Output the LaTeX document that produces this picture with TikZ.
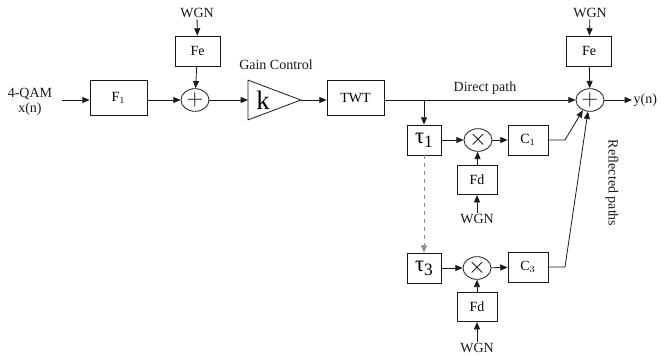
\documentclass[tikz,border=0pt]{standalone}
\usepackage{fontspec}
\setmainfont{Liberation Serif}
\usepackage{tikz}
\usetikzlibrary{arrows.meta,positioning,shapes.geometric}
\definecolor{ink}{HTML}{1A1A1A}
\definecolor{dashgray}{HTML}{8C8C8C}

\newcommand{\delayt}[1]{{\fontsize{17}{17}\selectfont τ}{\fontsize{13}{13}\selectfont\raisebox{-3pt}{#1}}}

\tikzset{
  box/.style={draw=ink, inner sep=0pt, minimum height=22.5pt},
  adder/.style={draw=ink, ellipse, inner sep=0pt, minimum width=21pt, minimum height=17pt,
    font=\fontsize{16}{16}\selectfont},
  amp/.style={inner ysep=0pt, inner xsep=6pt, text width=27pt, align=left,
    minimum height=29.25pt, anchor=west},
  lbl/.style={inner sep=1pt, text=ink}
}

\begin{document}
\begin{tikzpicture}[x=0.75pt, y=-0.75pt, font=\fontsize{10.5}{12}\selectfont,
    >={Triangle[length=5.5pt,width=4.5pt]}, line width=0.6pt, draw=ink]
  \useasboundingbox (0,0) rectangle (668,355);

  % transmitter chain
  \node[lbl, align=center] (in) at (30,102) {4-QAM\\[-1pt]x(n)};
  \coordinate (src) at (62,100);
  \node[box, minimum width=42.75pt, minimum height=26.25pt] (f1) at (118.5,98) {F$_1$};
  \node[adder] (sum1) at (195,100) {$+$};
  \node[box, minimum width=33.75pt] (fe1) at (197.5,51) {Fe};
  \node[lbl] (wgn1) at (197,13) {WGN};
  \node[amp] (amp) at (248,100) {\fontsize{20}{20}\selectfont k};
  \draw (amp.north west) -- (amp.east) -- (amp.south west) -- cycle;
  \node[lbl] (gain) at (276,65) {Gain Control};
  \node[box, minimum width=42.75pt, minimum height=26.25pt] (twt) at (355.5,98) {TWT};
  \coordinate (tap) at (424,100);

  % receiver sum
  \node[adder] (sum2) at (590,100) {$+$};
  \node[box, minimum width=33.75pt] (fe2) at (589,51) {Fe};
  \node[lbl] (wgn2) at (590,13) {WGN};
  \node[lbl, anchor=west] (out) at (632,100) {y(n)};
  \node[lbl] (direct) at (485,88) {Direct path};
  \node[lbl, rotate=-90] (refl) at (612,183) {Reflected paths};

  % first reflected path
  \node[box, minimum width=25.5pt] (tau1) at (424,140) {\delayt{1}};
  \node[adder] (mult1) at (478,140) {$\times$};
  \node[box, minimum width=30pt] (c1) at (528,140) {C$_1$};
  \coordinate (c1k) at (565,140);
  \node[box, minimum width=30pt, minimum height=22pt] (fd1) at (477,180) {Fd};
  \node[lbl] (wgn3) at (477,219) {WGN};

  % last reflected path
  \node[box, minimum width=25.5pt] (tau3) at (424,268) {\delayt{3}};
  \node[adder] (mult3) at (477,268) {$\times$};
  \node[box, minimum width=30pt] (c3) at (528,267) {C$_3$};
  \coordinate (c3k) at (565,267);
  \node[box, minimum width=30pt, minimum height=22pt] (fd3) at (477,307) {Fd};
  \node[lbl] (wgn4) at (477,348) {WGN};

  % connections
  \draw[->] (src) -- (f1.west |- src);
  \draw[->] (f1.east |- sum1) -- (sum1);
  \draw[->] (wgn1) -- (fe1);
  \draw[->] (fe1) -- (sum1);
  \draw[->] (sum1) -- (amp.west);
  \draw[->] (amp.east) -- (twt.west |- amp.east);
  \draw[->] (twt.east |- sum2) -- (sum2);
  \draw[->] (wgn2) -- (fe2);
  \draw[->] (fe2) -- (sum2);
  \draw[->] (sum2) -- (out);
  \draw[->] (tap) -- (tau1);
  \draw[->] (tau1) -- (mult1);
  \draw[->] (mult1) -- (c1);
  \draw[->] (wgn3) -- (fd1);
  \draw[->] (fd1) -- (mult1);
  \draw[->] (c1) -- (c1k) -- (sum2.235);
  \draw[->, dashgray, dashed] (tau1) -- (tau3);
  \draw[->] (tau3) -- (mult3);
  \draw[->] (mult3) -- (c3);
  \draw[->] (wgn4) -- (fd3);
  \draw[->] (fd3) -- (mult3);
  \draw[->] (c3) -- (c3k) -- (sum2.260);
\end{tikzpicture}
\end{document}
